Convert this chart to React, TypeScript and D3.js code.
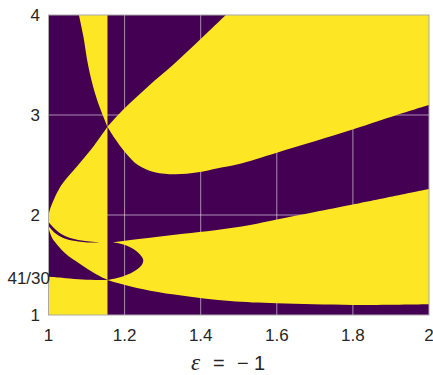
import React from "react";
import * as d3 from "d3";

type Pt = [number, number];

// axis ticks
const xTicks = [1, 1.2, 1.4, 1.6, 1.8, 2];
const yTicks = [1, 2, 3, 4];
const extraYTick = 41 / 30;
const extraYLabel = "41/30";
const xGrid = [1.2, 1.4, 1.6, 1.8];
const yGrid = [2, 3];

// vertical boundary where the pattern flips
const splitX = 1.155;

// boundary curves (x, y)
const aUpperRight: Pt[] = [
  [1.155, 2.883], [1.2, 3.067], [1.261, 3.283], [1.332, 3.517], [1.402, 3.767], [1.466, 4.0],
];
const aUpperLeft: Pt[] = [
  [1.155, 2.883], [1.121, 2.7], [1.078, 2.5], [1.034, 2.3], [1.008, 2.1], [1.002, 2.03], [1.0, 1.99],
];
const bLeft: Pt[] = [
  [1.08, 4.0], [1.091, 3.8], [1.104, 3.5], [1.121, 3.233], [1.139, 3.033], [1.155, 2.883],
];
const bRight: Pt[] = [
  [1.155, 2.883], [1.174, 2.767], [1.2, 2.633], [1.235, 2.5], [1.279, 2.427], [1.332, 2.407],
  [1.393, 2.427], [1.445, 2.467], [1.498, 2.507], [1.6, 2.623], [1.801, 2.857], [1.915, 3.0], [2.0, 3.1],
];
const aLowerLeft: Pt[] = [
  [1.0, 1.87], [1.008, 1.783], [1.017, 1.73], [1.043, 1.62], [1.083, 1.51], [1.122, 1.415], [1.155, 1.35],
];
const aLowerRight: Pt[] = [
  [1.155, 1.35], [1.201, 1.3], [1.267, 1.243], [1.354, 1.193], [1.477, 1.14], [1.6, 1.117],
  [1.801, 1.1], [2.0, 1.107],
];
const wedgeTop: Pt[] = [
  [1.0, 1.93], [1.017, 1.86], [1.036, 1.805], [1.062, 1.765], [1.096, 1.74], [1.14, 1.724],
];
const wedgeBottom: Pt[] = [
  [1.14, 1.724], [1.096, 1.728], [1.062, 1.745], [1.036, 1.775], [1.017, 1.82], [1.0, 1.89],
];
const bottomLeftTop: Pt[] = [
  [1.0, 1.383], [1.035, 1.373], [1.078, 1.357], [1.122, 1.35], [1.155, 1.35],
];
const bandTop: Pt[] = [
  [1.1695, 1.727], [1.201, 1.742], [1.267, 1.772], [1.354, 1.812], [1.438, 1.848], [1.53, 1.9],
  [1.6, 1.955], [1.7, 2.03], [1.8, 2.105], [2.0, 2.26],
];
const notch: Pt[] = [
  [1.155, 1.35], [1.188, 1.377], [1.223, 1.433], [1.245, 1.5], [1.249, 1.55], [1.245, 1.583],
  [1.227, 1.65], [1.201, 1.7], [1.1695, 1.727],
];

const purple = "#440154";
const yellow = "#fde725";
const W = 433;
const H = 375;
const left = 48.5;
const right = 429;
const top = 15;
const bottom = 315;

const x = d3.scaleLinear().domain([1, 2]).range([left, right]);
const y = d3.scaleLinear().domain([1, 4]).range([bottom, top]);

type Seg = { pts: Pt[]; smooth: boolean };
const seg = (pts: Pt[], smooth = true): Seg => ({ pts, smooth });
const rev = (pts: Pt[]) => pts.slice().reverse();

function regionPath(segs: Seg[]) {
  let d = "";
  segs.forEach((s, i) => {
    const line = d3
      .line<Pt>()
      .x((p) => x(p[0]))
      .y((p) => y(p[1]))
      .curve(s.smooth ? d3.curveCatmullRom.alpha(0.5) : d3.curveLinear);
    let part = line(s.pts) || "";
    if (i > 0) part = "L" + part.slice(1);
    d += part;
  });
  return d + "Z";
}

const yellowRegions: Seg[][] = [
  [seg(bLeft), seg([[splitX, 2.883], [splitX, 4]], false)],
  [seg(aUpperRight), seg([[1.466, 4], [2, 4], [2, 3.1]], false), seg(rev(bRight))],
  [
    seg(aUpperLeft),
    seg([[1, 1.99], [1, 1.87]], false),
    seg(aLowerLeft),
    seg([[splitX, 1.35], [splitX, 2.883]], false),
  ],
  [seg([[1, 1], [1, 1.383]], false), seg(bottomLeftTop), seg([[splitX, 1.35], [splitX, 1]], false)],
  [seg(bandTop), seg([[2, 2.26], [2, 1.107]], false), seg(rev(aLowerRight)), seg(notch)],
];
const purpleRegions: Seg[][] = [[seg(wedgeTop), seg(wedgeBottom)]];

const font = "'Liberation Sans', Arial, sans-serif";
const textColor = "#262626";

export default function App() {
  return (
    <svg width={W} height={H} style={{ position: "absolute", left: 0, top: 0 }}>
      <defs>
        <clipPath id="plotClip">
          <rect x={left} y={top} width={right - left} height={bottom - top} />
        </clipPath>
      </defs>
      <rect width={W} height={H} fill="#fff" />
      <g clipPath="url(#plotClip)">
        <rect x={left} y={top} width={right - left} height={bottom - top} fill={purple} />
        {xGrid.map((v) => (
          <line key={"gx" + v} x1={x(v)} x2={x(v)} y1={top} y2={bottom} stroke="#fff" strokeOpacity={0.55} />
        ))}
        {yGrid.map((v) => (
          <line key={"gy" + v} x1={left} x2={right} y1={y(v)} y2={y(v)} stroke="#fff" strokeOpacity={0.55} />
        ))}
        {yellowRegions.map((r, i) => (
          <path key={"y" + i} d={regionPath(r)} fill={yellow} />
        ))}
        {purpleRegions.map((r, i) => (
          <path key={"p" + i} d={regionPath(r)} fill={purple} />
        ))}
      </g>
      <rect x={left} y={top} width={right - left} height={bottom - top} fill="none" stroke="#aaa" strokeWidth={1} />
      <g fontFamily={font} fontSize={17} fill={textColor}>
        {xTicks.map((v) => (
          <text key={"xt" + v} x={x(v)} y={341} textAnchor="middle">
            {d3.format("~g")(v)}
          </text>
        ))}
        {yTicks.map((v) => (
          <text key={"yt" + v} x={40} y={y(v)} dy="0.35em" textAnchor="end">
            {v}
          </text>
        ))}
        <text x={50} y={y(extraYTick)} dy="0.35em" textAnchor="end">
          {extraYLabel}
        </text>
      </g>
      <g fill={textColor} fontSize={20}>
        <text x={191} y={370} fontSize={23} fontFamily="'Liberation Serif', serif" fontStyle="italic">
          ε
        </text>
        <text x={213} y={370} fontFamily={font}>=</text>
        <text x={237} y={370} fontFamily={font}>−</text>
        <text x={254} y={370} fontFamily={font}>1</text>
      </g>
    </svg>
  );
}
